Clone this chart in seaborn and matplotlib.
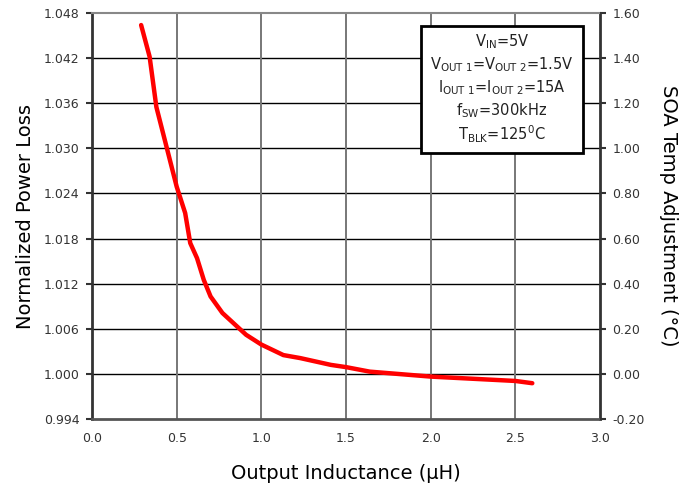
import matplotlib
matplotlib.use("Agg")
import matplotlib.pyplot as plt
from matplotlib.patches import Rectangle
import seaborn as sns
import pandas as pd

# values
inductance = [0.29, 0.34, 0.38, 0.44, 0.50, 0.55, 0.58, 0.62, 0.66, 0.70,
              0.77, 0.91, 1.00, 1.13, 1.23, 1.41, 1.50, 1.64, 2.00, 2.50, 2.60]
power_loss = [1.0464, 1.0422, 1.0355, 1.0302, 1.0249, 1.0214, 1.0174, 1.0154,
              1.0125, 1.0103, 1.0081, 1.0052, 1.0039, 1.0025, 1.0021, 1.0012,
              1.0009, 1.0003, 0.99964, 0.99906, 0.99876]

left_ticks = [0.994, 1.000, 1.006, 1.012, 1.018, 1.024, 1.030, 1.036, 1.042, 1.048]
right_ticks = [-0.20, 0.00, 0.20, 0.40, 0.60, 0.80, 1.00, 1.20, 1.40, 1.60]
x_ticks = [0.0, 0.5, 1.0, 1.5, 2.0, 2.5, 3.0]

conditions = [r"V$_{\mathrm{IN}}$=5V",
              r"V$_{\mathrm{OUT\ 1}}$=V$_{\mathrm{OUT\ 2}}$=1.5V",
              r"I$_{\mathrm{OUT\ 1}}$=I$_{\mathrm{OUT\ 2}}$=15A",
              r"f$_{\mathrm{SW}}$=300kHz",
              r"T$_{\mathrm{BLK}}$=125$^{0}$C"]

sns.set_style("white")
plt.rcParams['font.family'] = ['DejaVu Sans']
plt.rcParams['mathtext.default'] = 'regular'

df = pd.DataFrame({'L': inductance, 'Loss': power_loss})

fig = plt.figure(figsize=(6.94, 4.93), dpi=100)
ax = fig.add_axes([0.1326, 0.1501, 0.732, 0.8235])

ax.set_xlim(0, 3.0)
ax.set_ylim(0.994, 1.048)
ax.set_xticks(x_ticks)
ax.set_yticks(left_ticks)
ax.set_xticklabels([f"{t:.1f}" for t in x_ticks], fontsize=9, color="#333333")
ax.set_yticklabels([f"{t:.3f}" for t in left_ticks], fontsize=9, color="#333333")

for t in left_ticks[1:-1]:
    ax.axhline(t, color="black", lw=1.0, zorder=1)
for t in x_ticks[1:-1]:
    ax.axvline(t, color="#777777", lw=1.4, zorder=1)

sns.lineplot(data=df, x='L', y='Loss', color="#ff0000", lw=3.2, ax=ax, zorder=3)

ax.set_xlabel("Output Inductance (\u03bcH)", fontsize=14, labelpad=14, color="black")
ax.set_ylabel("Normalized Power Loss", fontsize=14, labelpad=6, color="black")

for side in ['left', 'bottom', 'right', 'top']:
    ax.spines[side].set_visible(True)
ax.spines['left'].set_color("#333333")
ax.spines['left'].set_linewidth(2)
ax.spines['bottom'].set_color("#555555")
ax.spines['bottom'].set_linewidth(2)
ax.spines['top'].set_color("#888888")
ax.spines['top'].set_linewidth(1.5)
ax.spines['right'].set_color("#333333")
ax.spines['right'].set_linewidth(2)
ax.tick_params(axis='both', direction='out', length=4, width=1.5, color="#333333", pad=5)

ax2 = ax.twinx()
ax2.set_ylim(-0.20, 1.60)
ax2.set_yticks(right_ticks)
ax2.set_yticklabels([f"{t:.2f}" for t in right_ticks], fontsize=9, color="#333333")
ax2.tick_params(axis='y', direction='out', length=4, width=1.5, color="#333333", pad=5)
ax2.set_ylabel("SOA Temp Adjustment (\u00b0C)", fontsize=14, rotation=270, labelpad=24, color="black")
for s in ax2.spines.values():
    s.set_visible(False)

# conditions box
ax.add_patch(Rectangle((0.648, 0.655), 0.319, 0.313, transform=ax.transAxes,
                       fc='white', ec='black', lw=2, zorder=5))
line_y = [0.929, 0.872, 0.815, 0.759, 0.702]
for txt, yy in zip(conditions, line_y):
    ax.text(0.807, yy, txt, transform=ax.transAxes, ha='center', va='center',
            fontsize=10.5, color="#222222", zorder=6)

fig.savefig("out.png", dpi=100)
